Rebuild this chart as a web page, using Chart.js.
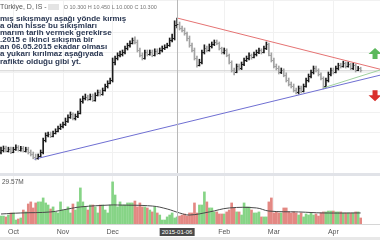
<!DOCTYPE html>
<html>
<head>
<meta charset="utf-8">
<script src="https://cdn.jsdelivr.net/npm/chart.js@4.4.0/dist/chart.umd.min.js"></script>
<style>
  html, body { margin: 0; padding: 0; background: #fff; }
  #wrap { position: relative; width: 380px; height: 240px; overflow: hidden; font-family: "Liberation Sans", Arial, sans-serif; }
  #pricePane { position: absolute; left: 0; top: 0; width: 380px; height: 173px; }
  #volPane { position: absolute; left: 0; top: 176px; width: 380px; height: 64px; }
  .band { position: absolute; left: 0; width: 380px; background: #e1e3e8; }
  #header { position: absolute; left: 0; top: 3px; font-size: 7px; color: #555; white-space: nowrap; }
  #header .sym { display: inline-block; width: 11px; height: 6px; background: #e4e4e4; vertical-align: middle; margin: 0 3px 0 1px; }
  #header .ohlc { font-size: 5.5px; color: #777; margin-left: 2px; }
  #note { position: absolute; left: 0; top: 15px; font-size: 8px; font-weight: bold; color: #2b3853; line-height: 7.1px; white-space: pre; }
  #volLabel { position: absolute; left: 2px; top: 178px; font-size: 6.5px; color: #555; }
  #crossDate { position: absolute; top: 228px; transform: translateX(-50%); background: #4a4a4a; color: #fff; font-size: 6px; padding: 1px 2px; white-space: nowrap; }
</style>
</head>
<body>
<div id="wrap">
  <div class="band" style="top:0;height:1px"></div>
  <div id="pricePane"><canvas id="priceChart" width="380" height="173"></canvas></div>
  <div class="band" style="top:173px;height:3px"></div>
  <div id="volPane"><canvas id="volChart" width="380" height="64"></canvas></div>
  <div class="band" style="top:237px;height:3px;background:#e8e8e8"></div>
  <div id="header">Türkiye, D, IS -<span class="sym"></span><span class="ohlc">O 10.300 H 10.450 L 10.000 C 10.300</span></div>
  <div id="note">mış sıkışmayı aşağı yönde kırmış
a olan hisse bu sıkışmları
marım tarih vermek gerekirse
.2015 e ikinci sıkışma bir
an 06.05.2015 ekadar olması
a yukarı kırılmaz aşağıyada
rafikte olduğu gibi yt.</div>
  <div id="volLabel">29.57M</div>
  <div id="crossDate">2015-01-06</div>
</div>
<script>
// daily bars, Sep 2014 - Apr 2015 (index = trading day)
var opens = [
  8.00, 8.05, 8.10, 8.03, 8.08, 8.00, 8.08, 8.13, 8.05, 8.10,
  8.03, 8.08, 8.00, 7.95, 7.88, 7.85, 7.90, 8.00, 8.30, 8.43,
  8.45, 8.40, 8.48, 8.53, 8.60, 8.65, 8.70, 8.78, 8.88, 8.95,
  8.85, 8.90, 8.98, 9.28, 9.35, 9.38, 9.33, 9.40, 9.30, 9.43,
  9.50, 9.45, 9.55, 9.65, 9.73, 9.80, 10.25, 10.35, 10.43, 10.45,
  10.50, 10.60, 10.68, 10.73, 10.80, 10.75, 10.55, 10.43, 10.35, 10.50,
  10.45, 10.50, 10.43, 10.53, 10.48, 10.55, 10.60, 10.63, 10.68, 10.80,
  10.85, 11.18, 11.20, 11.10, 11.05, 10.98, 10.85, 10.68, 10.55, 10.35,
  10.18, 10.25, 10.50, 10.60, 10.55, 10.65, 10.70, 10.75, 10.73, 10.60,
  10.50, 10.55, 10.43, 10.25, 10.05, 10.00, 10.15, 10.10, 10.20, 10.30,
  10.35, 10.43, 10.38, 10.45, 10.50, 10.55, 10.50, 10.60, 10.70, 10.43,
  10.30, 10.15, 10.10, 10.00, 10.05, 9.93, 9.80, 9.70, 9.65, 9.55,
  9.50, 9.60, 9.53, 9.65, 9.80, 9.90, 10.00, 10.10, 10.05, 9.95,
  9.85, 9.65, 9.80, 9.95, 10.05, 10.00, 10.10, 10.18, 10.15, 10.23,
  10.15, 10.20, 10.10, 10.18, 10.05, 10.10
];
var highs = [
  8.12, 8.15, 8.15, 8.12, 8.12, 8.12, 8.18, 8.16, 8.14, 8.14,
  8.12, 8.12, 8.05, 8.00, 7.95, 7.95, 8.05, 8.35, 8.48, 8.50,
  8.50, 8.52, 8.58, 8.65, 8.70, 8.75, 8.85, 8.93, 9.00, 8.98,
  8.95, 9.02, 9.33, 9.40, 9.45, 9.42, 9.45, 9.45, 9.48, 9.55,
  9.55, 9.60, 9.70, 9.78, 9.85, 10.35, 10.40, 10.48, 10.52, 10.55,
  10.65, 10.72, 10.78, 10.85, 10.88, 10.80, 10.60, 10.48, 10.55, 10.55,
  10.55, 10.55, 10.58, 10.58, 10.60, 10.65, 10.68, 10.72, 10.85, 10.95,
  11.28, 11.35, 11.25, 11.15, 11.10, 11.00, 10.90, 10.72, 10.60, 10.40,
  10.32, 10.55, 10.68, 10.65, 10.70, 10.75, 10.80, 10.80, 10.75, 10.62,
  10.60, 10.58, 10.45, 10.28, 10.10, 10.20, 10.20, 10.25, 10.35, 10.40,
  10.48, 10.45, 10.50, 10.55, 10.60, 10.58, 10.65, 10.75, 10.72, 10.48,
  10.35, 10.20, 10.15, 10.10, 10.08, 9.98, 9.85, 9.75, 9.70, 9.60,
  9.65, 9.65, 9.70, 9.85, 9.95, 10.05, 10.15, 10.15, 10.08, 9.98,
  9.88, 9.85, 10.00, 10.10, 10.10, 10.15, 10.22, 10.22, 10.27, 10.25,
  10.25, 10.22, 10.22, 10.20, 10.14, 10.12
];
var lows = [
  7.95, 8.00, 8.00, 8.00, 7.96, 7.98, 8.04, 8.02, 8.02, 8.00,
  8.00, 7.95, 7.90, 7.83, 7.80, 7.82, 7.88, 7.95, 8.25, 8.38,
  8.36, 8.38, 8.45, 8.50, 8.56, 8.60, 8.66, 8.74, 8.84, 8.80,
  8.80, 8.86, 8.95, 9.22, 9.30, 9.28, 9.30, 9.26, 9.27, 9.40,
  9.40, 9.42, 9.52, 9.60, 9.70, 9.75, 10.18, 10.30, 10.38, 10.40,
  10.45, 10.55, 10.62, 10.70, 10.70, 10.50, 10.38, 10.30, 10.32, 10.40,
  10.42, 10.38, 10.40, 10.44, 10.45, 10.50, 10.56, 10.60, 10.64, 10.75,
  10.80, 11.10, 11.05, 11.00, 10.92, 10.78, 10.62, 10.50, 10.30, 10.12,
  10.15, 10.20, 10.45, 10.50, 10.52, 10.60, 10.66, 10.68, 10.55, 10.45,
  10.45, 10.38, 10.20, 10.00, 9.93, 9.98, 10.05, 10.06, 10.16, 10.26,
  10.30, 10.32, 10.35, 10.40, 10.46, 10.45, 10.48, 10.56, 10.40, 10.25,
  10.10, 10.05, 9.95, 9.96, 9.88, 9.75, 9.65, 9.60, 9.50, 9.45,
  9.45, 9.48, 9.50, 9.62, 9.75, 9.85, 9.95, 10.00, 9.90, 9.80,
  9.58, 9.62, 9.75, 9.90, 9.95, 9.98, 10.05, 10.10, 10.12, 10.10,
  10.12, 10.06, 10.06, 10.00, 10.03, 10.00
];
var closes = [
  8.05, 8.10, 8.03, 8.08, 8.00, 8.08, 8.13, 8.05, 8.10, 8.03,
  8.08, 8.00, 7.95, 7.88, 7.85, 7.90, 8.00, 8.30, 8.43, 8.45,
  8.40, 8.48, 8.53, 8.60, 8.65, 8.70, 8.78, 8.88, 8.95, 8.85,
  8.90, 8.98, 9.28, 9.35, 9.38, 9.33, 9.40, 9.30, 9.43, 9.50,
  9.45, 9.55, 9.65, 9.73, 9.80, 10.25, 10.35, 10.43, 10.45, 10.50,
  10.60, 10.68, 10.73, 10.80, 10.75, 10.55, 10.43, 10.35, 10.50, 10.45,
  10.50, 10.43, 10.53, 10.48, 10.55, 10.60, 10.63, 10.68, 10.80, 10.85,
  11.18, 11.20, 11.10, 11.05, 10.98, 10.85, 10.68, 10.55, 10.35, 10.18,
  10.25, 10.50, 10.60, 10.55, 10.65, 10.70, 10.75, 10.73, 10.60, 10.50,
  10.55, 10.43, 10.25, 10.05, 10.00, 10.15, 10.10, 10.20, 10.30, 10.35,
  10.43, 10.38, 10.45, 10.50, 10.55, 10.50, 10.60, 10.70, 10.43, 10.30,
  10.15, 10.10, 10.00, 10.05, 9.93, 9.80, 9.70, 9.65, 9.55, 9.50,
  9.60, 9.53, 9.65, 9.80, 9.90, 10.00, 10.10, 10.05, 9.95, 9.85,
  9.65, 9.80, 9.95, 10.05, 10.00, 10.10, 10.18, 10.15, 10.23, 10.15,
  10.20, 10.10, 10.18, 10.05, 10.10, 10.05
];
// volume in millions
var volumes = [
  5.4, 5.4, 4.8, 6.1, 7.5, 7.5, 2.7, 3.4, 4.1, 9.5,
  8.2, 13.6, 15.0, 10.9, 14.3, 15.0, 15.0, 17.7, 14.3, 12.9,
  10.2, 11.6, 8.2, 7.5, 15.0, 9.5, 9.5, 11.6, 7.5, 13.6,
  9.5, 15.0, 24.5, 15.0, 11.6, 9.5, 12.9, 12.9, 11.6, 7.5,
  12.9, 12.9, 9.5, 7.5, 12.9, 28.6, 19.7, 11.6, 15.0, 12.9,
  12.9, 14.3, 14.3, 14.3, 15.6, 11.6, 14.3, 11.6, 11.6, 10.9,
  9.5, 8.2, 11.6, 7.5, 6.1, 2.7, 2.7, 4.8, 6.1, 7.5,
  4.1, 4.8, 5.4, 6.1, 6.8, 5.4, 7.5, 7.5, 14.3, 7.5,
  12.9, 12.9, 21.8, 15.0, 10.9, 10.9, 8.2, 8.2, 6.8, 6.8,
  6.8, 8.2, 9.5, 14.3, 10.9, 8.2, 8.2, 6.1, 14.3, 11.6,
  11.6, 9.5, 7.5, 7.5, 8.2, 4.8, 4.8, 4.8, 15.0, 17.7,
  7.5, 8.2, 7.5, 7.5, 10.9, 10.9, 8.2, 7.5, 8.2, 7.5,
  6.1, 7.5, 4.8, 6.8, 6.1, 7.5, 6.1, 6.8, 5.4, 7.5,
  8.2, 8.2, 8.8, 8.8, 8.8, 8.2, 8.2, 8.2, 7.5, 7.5,
  7.5, 7.5, 7.5, 8.2, 8.2, 4.1
];
// volume moving average, read at a few bars
var volMA = [
  {x: 0, y: 6.8}, {x: 8, y: 7.5}, {x: 20, y: 8.2}, {x: 27, y: 10.2}, {x: 32, y: 11.6},
  {x: 44, y: 12.9}, {x: 47, y: 12.9}, {x: 61, y: 12.2}, {x: 67, y: 10.2}, {x: 72, y: 7.5},
  {x: 76, y: 6.1}, {x: 84, y: 8.2}, {x: 92, y: 10.9}, {x: 103, y: 10.9}, {x: 108, y: 8.8},
  {x: 120, y: 8.2}, {x: 130, y: 7.5}, {x: 145, y: 7.5}
];

// drawn trend lines (bar index, price)
var redLine = [{x: 71, y: 11.35}, {x: 152.8, y: 10.07}];
var blueLine = [{x: 13.5, y: 7.82}, {x: 152.8, y: 9.92}];
var greenLine = [{x: 129.8, y: 9.60}, {x: 152.8, y: 10.05}];

var tickLabels = ['Oct', 'Nov', 'Dec', 'Feb', 'Mar', 'Apr'];
var tickBars = [5, 25, 45, 90, 110, 134];
var crossBar = 71;
var crossPrice = 10.03;
var upArrow = {x: 150.8, y: 10.6};
var downArrow = {x: 150.8, y: 9.27};

var xMin = -0.4, xMax = 152.8;
var upColor = '#1c1c1c', downColor = '#a3a3a3';
var volUp = '#86d486', volDown = '#e38883';

var isUp = closes.map(function(c, i) { return c >= opens[i]; });

var ohlcTicks = {
  id: 'ohlcTicks',
  afterDatasetsDraw: function(chart) {
    var ctx = chart.ctx, x = chart.scales.x, y = chart.scales.y;
    ctx.save();
    ctx.lineWidth = 1;
    closes.forEach(function(c, i) {
      var px = x.getPixelForValue(i);
      var yo = Math.round(y.getPixelForValue(opens[i])) + 0.5;
      var yc = Math.round(y.getPixelForValue(c)) + 0.5;
      ctx.strokeStyle = isUp[i] ? upColor : downColor;
      ctx.beginPath();
      ctx.moveTo(px - 1.6, yo); ctx.lineTo(px, yo);
      ctx.moveTo(px, yc); ctx.lineTo(px + 1.6, yc);
      ctx.stroke();
    });
    ctx.restore();
  }
};

var crossLine = {
  id: 'crossLine',
  afterDatasetsDraw: function(chart) {
    var ctx = chart.ctx, a = chart.chartArea;
    var px = Math.round(chart.scales.x.getPixelForValue(crossBar)) + 0.5;
    ctx.save();
    ctx.strokeStyle = '#b8b8b8';
    ctx.lineWidth = 1;
    ctx.beginPath();
    ctx.moveTo(px, a.top); ctx.lineTo(px, a.bottom);
    ctx.stroke();
    ctx.restore();
  }
};

var arrows = {
  id: 'arrows',
  afterDraw: function(chart) {
    var ctx = chart.ctx, x = chart.scales.x, y = chart.scales.y;
    function arrow(pt, dir, color) {
      var cx = x.getPixelForValue(pt.x), ty = y.getPixelForValue(pt.y);
      ctx.fillStyle = color;
      ctx.beginPath();
      ctx.moveTo(cx, ty);
      ctx.lineTo(cx + 6.5, ty + dir * 6);
      ctx.lineTo(cx + 2.5, ty + dir * 6);
      ctx.lineTo(cx + 2.5, ty + dir * 11);
      ctx.lineTo(cx - 2.5, ty + dir * 11);
      ctx.lineTo(cx - 2.5, ty + dir * 6);
      ctx.lineTo(cx - 6.5, ty + dir * 6);
      ctx.closePath();
      ctx.fill();
    }
    ctx.save();
    arrow(upArrow, 1, '#5cb85c');
    arrow(downArrow, -1, '#d9302c');
    ctx.restore();
  }
};

function xScale(showTicks) {
  return {
    type: 'linear', min: xMin, max: xMax, offset: false,
    afterBuildTicks: function(s) { s.ticks = tickBars.map(function(v) { return {value: v}; }); },
    grid: {color: '#f1f1f1', drawTicks: false, offset: false},
    border: {display: showTicks, color: '#d6d6d6'},
    ticks: {
      display: showTicks, autoSkip: false, maxRotation: 0, padding: 4,
      color: '#555', font: {size: 7, family: 'Liberation Sans'},
      callback: function(v) { return tickLabels[tickBars.indexOf(v)]; }
    },
    afterFit: function(s) { s.height = showTicks ? 16 : 0; }
  };
}

var priceChart = new Chart(document.getElementById('priceChart'), {
  type: 'bar',
  data: {
    datasets: [
      {type: 'line', data: redLine, borderColor: '#e57373', borderWidth: 1, pointRadius: 0, order: 0},
      {type: 'line', data: blueLine, borderColor: '#6f6fd2', borderWidth: 1, pointRadius: 0, order: 0},
      {type: 'line', data: greenLine, borderColor: '#9fd09f', borderWidth: 1, pointRadius: 0, order: 0},
      {type: 'line', data: [{x: xMin, y: crossPrice}, {x: xMax, y: crossPrice}], borderColor: '#cfcfcf', borderWidth: 1, pointRadius: 0, order: 2},
      {
        data: highs.map(function(h, i) { return {x: i, y: [lows[i], h]}; }),
        backgroundColor: isUp.map(function(u) { return u ? upColor : downColor; }),
        barThickness: 1, order: 1
      }
    ]
  },
  options: {
    responsive: false, animation: false,
    layout: {padding: 0},
    plugins: {legend: {display: false}, tooltip: {enabled: false}},
    scales: {
      x: xScale(false),
      y: {
        min: 7.475, max: 11.8,
        ticks: {display: false, stepSize: 0.5},
        grid: {color: '#f1f1f1', drawTicks: false},
        border: {display: false},
        afterFit: function(s) { s.width = 0; }
      }
    }
  },
  plugins: [crossLine, ohlcTicks, arrows]
});

var volChart = new Chart(document.getElementById('volChart'), {
  type: 'bar',
  data: {
    datasets: [
      {type: 'line', data: volMA, borderColor: '#4a4a4a', borderWidth: 1, pointRadius: 0, tension: 0.4, order: 0},
      {
        data: volumes.map(function(v, i) { return {x: i, y: v}; }),
        backgroundColor: isUp.map(function(u) { return u ? volUp : volDown; }),
        barThickness: 2, order: 1
      }
    ]
  },
  options: {
    responsive: false, animation: false,
    layout: {padding: 0},
    plugins: {legend: {display: false}, tooltip: {enabled: false}},
    scales: {
      x: xScale(true),
      y: {min: 0, max: 32.6, display: false}
    }
  },
  plugins: [crossLine]
});

document.getElementById('crossDate').style.left = volChart.scales.x.getPixelForValue(crossBar) + 'px';
</script>
</body>
</html>
